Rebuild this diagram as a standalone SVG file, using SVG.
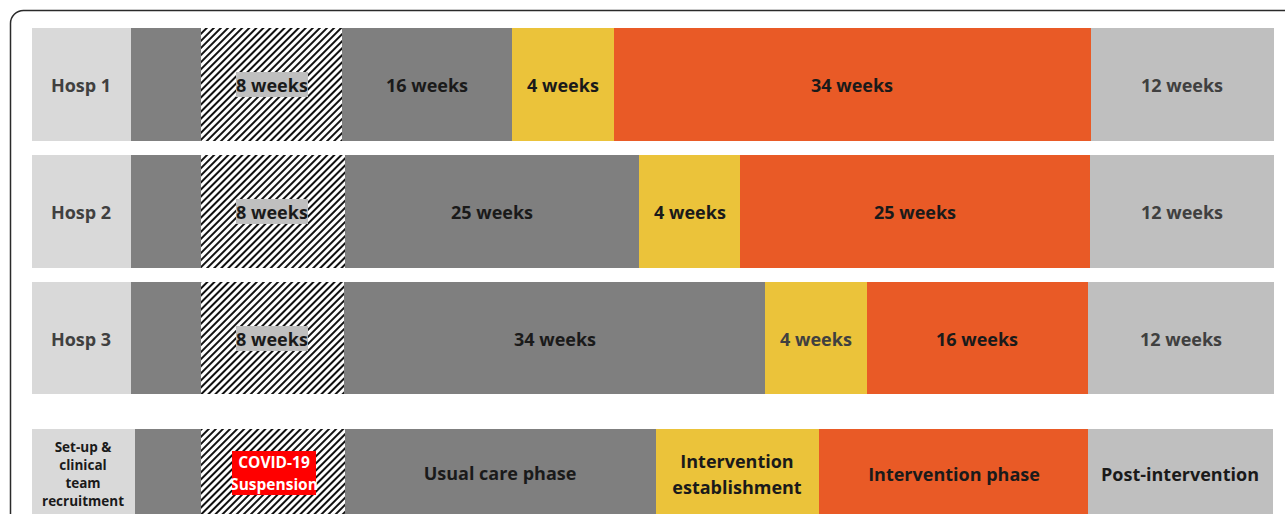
<svg xmlns="http://www.w3.org/2000/svg" width="1285" height="514" viewBox="0 0 1285 514">
<defs>
<pattern id="hatch" patternUnits="userSpaceOnUse" width="5" height="5" patternTransform="rotate(45)">
<rect width="5" height="5" fill="#ffffff"/>
<rect x="0" y="0" width="2" height="5" fill="#111111"/>
</pattern>
<style>
text{font-family:"Open Sans","Liberation Sans",sans-serif;font-weight:700;text-anchor:middle;dominant-baseline:central}
.t{font-size:18px;fill:#1a1a1a}
.g{font-size:18px;fill:#404040}
.s{font-size:13.5px;fill:#1a1a1a}
.lab{fill:#d9d9d9}
.dk{fill:#808080}
.hat{fill:url(#hatch)}
.gr{fill:#7f7f7f}
.ye{fill:#ebc33a}
.or{fill:#e95a26}
.lg{fill:#bfbfbf}
</style>
</defs>
<rect x="0" y="0" width="1285" height="514" fill="#ffffff"/>
<rect x="10.5" y="10.5" width="1300" height="530" rx="13" fill="none" stroke="#2a2a2a" stroke-width="1.5"/>

<g id="hosp1">
<rect class="lab" x="32" y="28" width="99" height="113"/>
<rect class="dk" x="131" y="28" width="70" height="113"/>
<rect class="hat" x="201" y="28" width="141" height="113"/>
<rect class="gr" x="342" y="28" width="170" height="113"/>
<rect class="ye" x="512" y="28" width="102" height="113"/>
<rect class="or" x="614" y="28" width="477" height="113"/>
<rect class="lg" x="1091" y="28" width="183" height="113"/>
<text class="g" x="81" y="85">Hosp 1</text>
<rect class="lg" x="236" y="72" width="72" height="25"/>
<text class="t" x="272" y="85">8 weeks</text>
<text class="t" x="427" y="85">16 weeks</text>
<text class="t" x="563" y="85">4 weeks</text>
<text class="t" x="852" y="85">34 weeks</text>
<text class="g" x="1182" y="85">12 weeks</text>
</g>

<g id="hosp2">
<rect class="lab" x="32" y="155" width="99" height="113"/>
<rect class="dk" x="131" y="155" width="70" height="113"/>
<rect class="hat" x="201" y="155" width="144" height="113"/>
<rect class="gr" x="345" y="155" width="294" height="113"/>
<rect class="ye" x="639" y="155" width="101" height="113"/>
<rect class="or" x="740" y="155" width="350" height="113"/>
<rect class="lg" x="1090" y="155" width="184" height="113"/>
<text class="g" x="81" y="212">Hosp 2</text>
<rect class="lg" x="236" y="199" width="72" height="25"/>
<text class="t" x="272" y="212">8 weeks</text>
<text class="t" x="492" y="212">25 weeks</text>
<text class="t" x="690" y="212">4 weeks</text>
<text class="t" x="915" y="212">25 weeks</text>
<text class="g" x="1182" y="212">12 weeks</text>
</g>

<g id="hosp3">
<rect class="lab" x="32" y="282" width="99" height="112"/>
<rect class="dk" x="131" y="282" width="70" height="112"/>
<rect class="hat" x="201" y="282" width="143" height="112"/>
<rect class="gr" x="344" y="282" width="421" height="112"/>
<rect class="ye" x="765" y="282" width="102" height="112"/>
<rect class="or" x="867" y="282" width="221" height="112"/>
<rect class="lg" x="1088" y="282" width="186" height="112"/>
<text class="g" x="81" y="339">Hosp 3</text>
<rect class="lg" x="236" y="326" width="72" height="25"/>
<text class="t" x="272" y="339">8 weeks</text>
<text class="t" x="555" y="339">34 weeks</text>
<text class="g" x="816" y="339">4 weeks</text>
<text class="t" x="977" y="339">16 weeks</text>
<text class="g" x="1181" y="339">12 weeks</text>
</g>

<g id="legend">
<rect class="lab" x="32" y="429" width="103" height="90"/>
<rect class="dk" x="135" y="429" width="66" height="90"/>
<rect class="hat" x="201" y="429" width="144" height="90"/>
<rect class="gr" x="345" y="429" width="311" height="90"/>
<rect class="ye" x="656" y="429" width="163" height="90"/>
<rect class="or" x="819" y="429" width="269" height="90"/>
<rect class="lg" x="1088" y="429" width="185" height="90"/>
<text class="s" x="83" y="447">Set-up &amp;</text>
<text class="s" x="83" y="465">clinical</text>
<text class="s" x="83" y="483">team</text>
<text class="s" x="83" y="501">recruitment</text>
<rect x="232" y="451" width="84" height="44" fill="#ff0000"/>
<text class="s" x="274" y="462" style="font-size:15.5px;fill:#ffffff">COVID-19</text>
<text class="s" x="274" y="484" style="font-size:15.5px;fill:#ffffff">Suspension</text>
<text class="t" x="500" y="473">Usual care phase</text>
<text class="t" x="737" y="461">Intervention</text>
<text class="t" x="737" y="487">establishment</text>
<text class="t" x="954" y="474">Intervention phase</text>
<text class="t" x="1180" y="474">Post-intervention</text>
</g>
<g id="connectors"/>
</svg>
